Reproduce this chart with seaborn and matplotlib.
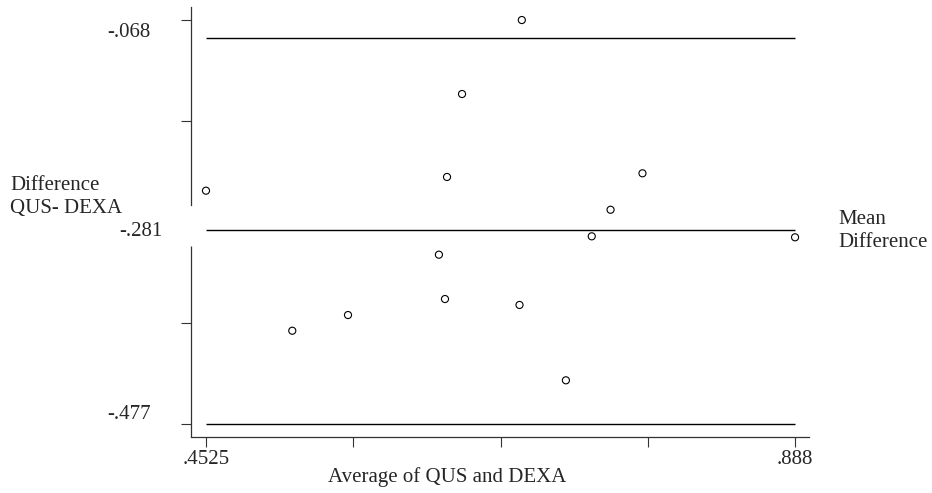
import numpy as np
import pandas as pd
import seaborn as sns
import matplotlib.pyplot as plt
from matplotlib.transforms import offset_copy

# Bland-Altman: QUS vs DEXA
avg_qus_dexa = [0.4525, 0.5163, 0.5575, 0.6247, 0.6292, 0.6307, 0.6418,
                0.6843, 0.6860, 0.7186, 0.7377, 0.7516, 0.7752, 0.8880]
diff_qus_dexa = [-0.2408, -0.3826, -0.3667, -0.3056, -0.3505, -0.2269, -0.1429,
                 -0.3565, -0.0680, -0.4328, -0.2870, -0.2601, -0.2232, -0.2880]

mean_diff = -0.281
upper_limit = -0.086
lower_limit = -0.477

x_ticks = [0.4525, 0.561375, 0.67025, 0.779125, 0.888]
x_tick_labels = {0.4525: '.4525', 0.888: '.888'}
y_ticks = [-0.068, -0.17025, -0.37475, -0.477]

df = pd.DataFrame({'avg': avg_qus_dexa, 'diff': diff_qus_dexa})

sns.set_style('ticks')
plt.rcParams['font.family'] = ['Liberation Serif', 'DejaVu Serif']
fs = 15

fig = plt.figure(figsize=(9.32, 4.93), dpi=100)
ax = fig.add_axes([0.2049, 0.1136, 0.6631, 0.8722])

sns.scatterplot(data=df, x='avg', y='diff', ax=ax, marker='o', s=26,
                facecolor='none', edgecolor='black', linewidth=0.8, zorder=3)

# mean difference and limits of agreement
ax.hlines([upper_limit, mean_diff, lower_limit], min(avg_qus_dexa), max(avg_qus_dexa),
          color='black', linewidth=1.0)

ax.set_xlim(0.4414, 0.8983)
ax.set_ylim(-0.4902, -0.0548)

ax.set_xticks(x_ticks)
ax.set_yticks(y_ticks)
ax.set_xticklabels([])
ax.set_yticklabels([])
ax.tick_params(axis='both', length=7.2, width=0.8, color='#333333', direction='out')

sns.despine(ax=ax)
for side in ['left', 'bottom']:
    ax.spines[side].set_color('#333333')
    ax.spines[side].set_linewidth(0.9)

# y axis is broken around the mean line
gap_top, gap_bottom = -0.2553, -0.2968
ax.spines['left'].set_bounds(gap_top, -0.0548)
ax.plot([0.4414, 0.4414], [-0.4902, gap_bottom], color='#333333', linewidth=0.9,
        clip_on=False, solid_capstyle='butt')

ytr = ax.get_yaxis_transform()
ax.text(-0.0647, -0.068, '-.068', transform=offset_copy(ytr, fig=fig, y=-3, units='dots'),
        ha='right', va='top', fontsize=fs)
ax.text(-0.0453, mean_diff, '-.281', transform=offset_copy(ytr, fig=fig, y=-1, units='dots'),
        ha='right', va='center', fontsize=fs)
ax.text(-0.0647, lower_limit, '-.477', transform=ytr, ha='right', va='bottom', fontsize=fs)

xtr = ax.get_xaxis_transform()
for xv, lab in x_tick_labels.items():
    ax.text(xv, -0.031, lab, transform=xtr, ha='center', va='top', fontsize=fs)

ax.set_xlabel('')
ax.set_ylabel('')
fig.text(447 / 932, 1 - 477 / 493, 'Average of QUS and DEXA', ha='center', va='center', fontsize=fs)
fig.text(10 / 932, 1 - 197 / 493, 'Difference\nQUS- DEXA', ha='left', va='center',
         fontsize=fs, linespacing=1.25)
fig.text(838 / 932, 1 - 231 / 493, 'Mean\nDifference', ha='left', va='center',
         fontsize=fs, linespacing=1.25)

fig.savefig('out.png', dpi=100)
